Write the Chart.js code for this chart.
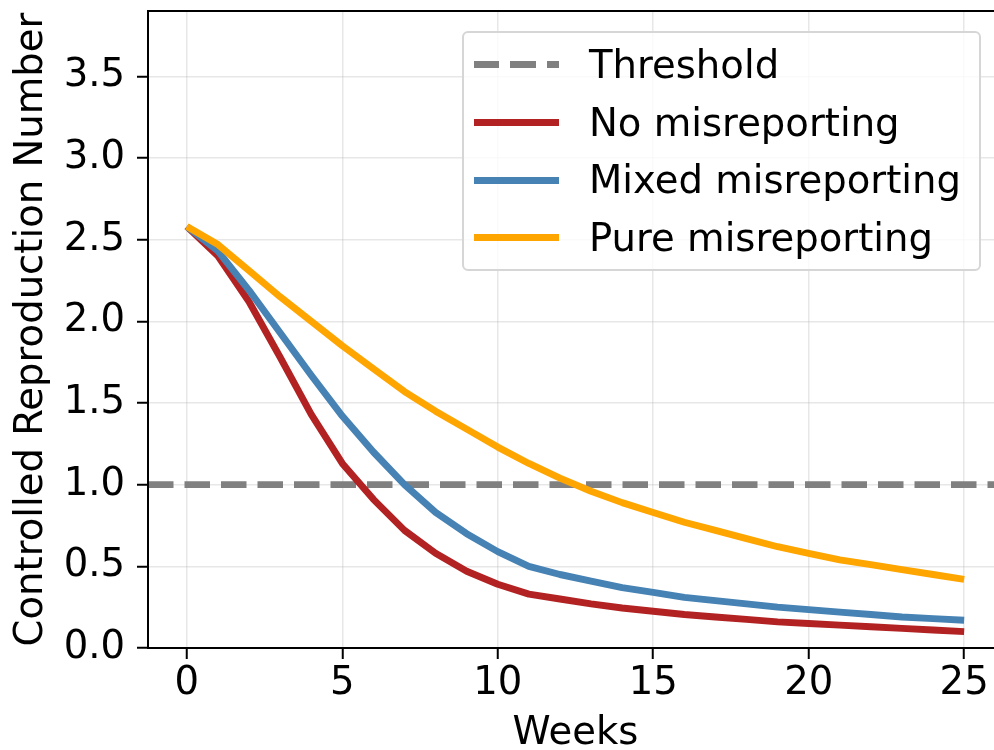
<!DOCTYPE html>
<html lang="en">
<head>
    <meta charset="UTF-8">
    <title>Controlled Reproduction Number</title>
    <script src="https://cdn.jsdelivr.net/npm/chart.js"></script>
    <style>
        html, body { margin: 0; padding: 0; background: #fff; overflow: hidden; }
        .wrap { position: relative; width: 994px; height: 750px; overflow: hidden; }
        #chart { position: absolute; left: 0; top: 0; }
        .legend {
            position: absolute; left: 462px; top: 31px; width: 519px; height: 240px;
            box-sizing: border-box; padding: 3px 0 0 0;
            background: rgba(255, 255, 255, 0.8);
            border: 2px solid #d6d6d6; border-radius: 6px;
            font-family: "DejaVu Sans", sans-serif; font-size: 38.6px; color: #000;
        }
        .legend-row { display: flex; align-items: center; height: 57.7px; line-height: 57.7px; white-space: nowrap; }
        .legend-line { width: 85px; margin-left: 10px; margin-right: 30px; flex: none; }
    </style>
</head>
<body>
    <div class="wrap">
        <canvas id="chart" width="1004" height="750"></canvas>
        <div class="legend" id="legend"></div>
    </div>

    <script>
        const weeks = [0, 1, 2, 3, 4, 5, 6, 7, 8, 9, 10, 11, 12, 13, 14, 15, 16, 17, 18, 19, 20, 21, 22, 23, 24, 25];
        const noMisreporting = [2.58, 2.40, 2.12, 1.78, 1.43, 1.13, 0.91, 0.72, 0.58, 0.47, 0.39, 0.33, 0.30, 0.27, 0.245, 0.225, 0.205, 0.19, 0.175, 0.16, 0.15, 0.14, 0.13, 0.12, 0.11, 0.10];
        const mixedMisreporting = [2.58, 2.43, 2.19, 1.93, 1.67, 1.42, 1.20, 1.00, 0.83, 0.70, 0.59, 0.50, 0.45, 0.41, 0.37, 0.34, 0.31, 0.29, 0.27, 0.25, 0.235, 0.22, 0.205, 0.19, 0.18, 0.17];
        const pureMisreporting = [2.58, 2.47, 2.31, 2.15, 2.00, 1.85, 1.71, 1.57, 1.45, 1.34, 1.23, 1.13, 1.04, 0.96, 0.89, 0.83, 0.77, 0.72, 0.67, 0.62, 0.58, 0.54, 0.51, 0.48, 0.45, 0.42];
        const threshold = 1.0;
        const xTicks = [0, 5, 10, 15, 20, 25];
        const yTicks = [0, 0.5, 1.0, 1.5, 2.0, 2.5, 3.0, 3.5];
        const xLimits = [-1.25, 26.25];
        const yLimits = [0, 3.9];

        const font = { family: 'DejaVu Sans', size: 38.6 };
        const gridColor = 'rgba(176, 176, 176, 0.3)';
        const lw = 6.9;

        const toPoints = (vals) => vals.map((v, i) => ({ x: weeks[i], y: v }));

        // matplotlib-style frame on all four sides
        const spines = {
            id: 'spines',
            afterDatasetsDraw(chart) {
                const { ctx, chartArea: a } = chart;
                ctx.save();
                ctx.strokeStyle = '#000';
                ctx.lineWidth = 2;
                ctx.strokeRect(a.left, a.top, a.right - a.left, a.bottom - a.top);
                ctx.restore();
            }
        };

        const datasets = [
            {
                label: 'Threshold',
                data: [{ x: xLimits[0], y: threshold }, { x: xLimits[1], y: threshold }],
                borderColor: '#808080', borderWidth: lw, borderDash: [25.5, 11],
                order: 4
            },
            { label: 'No misreporting', data: toPoints(noMisreporting), borderColor: '#b22222', borderWidth: lw, order: 3 },
            { label: 'Mixed misreporting', data: toPoints(mixedMisreporting), borderColor: '#4682b4', borderWidth: lw, order: 2 },
            { label: 'Pure misreporting', data: toPoints(pureMisreporting), borderColor: '#ffa500', borderWidth: lw, order: 1 }
        ];

        const noPad = (s) => { s.paddingTop = 0; s.paddingBottom = 0; s.paddingLeft = 0; s.paddingRight = 0; };

        const chart = new Chart(document.querySelector('#chart'), {
            type: 'line',
            data: { datasets: datasets },
            options: {
                responsive: false,
                animation: false,
                devicePixelRatio: 1,
                layout: { padding: { top: 11, right: 1, left: 0, bottom: 0 } },
                elements: {
                    point: { radius: 0 },
                    line: { tension: 0, fill: false, borderCapStyle: 'butt', borderJoinStyle: 'round' }
                },
                plugins: { legend: { display: false }, tooltip: { enabled: false } },
                scales: {
                    x: {
                        type: 'linear',
                        min: xLimits[0], max: xLimits[1],
                        afterBuildTicks: (s) => { s.ticks = xTicks.map(v => ({ value: v })); },
                        afterFit: (s) => { s.height = 102; noPad(s); },
                        ticks: { font: font, color: '#000', padding: 2, maxRotation: 0, callback: (v) => String(v) },
                        grid: { color: gridColor, lineWidth: 1.5, tickColor: '#000', tickWidth: 2, tickLength: 11 },
                        border: { display: false },
                        title: { display: true, text: 'Weeks', font: { family: 'DejaVu Sans', size: 38.6, lineHeight: 0.85 }, color: '#000', padding: { top: 0, bottom: 0 } }
                    },
                    y: {
                        min: yLimits[0], max: yLimits[1],
                        afterBuildTicks: (s) => { s.ticks = yTicks.map(v => ({ value: v })); },
                        afterFit: (s) => { s.width = 148; noPad(s); },
                        ticks: { font: font, color: '#000', padding: 12, callback: (v) => v.toFixed(1) },
                        grid: { color: gridColor, lineWidth: 1.5, tickColor: '#000', tickWidth: 2, tickLength: 11 },
                        border: { display: false },
                        title: { display: true, text: 'Controlled Reproduction Number', font: font, color: '#000', padding: { top: 9, bottom: 0 } }
                    }
                }
            },
            plugins: [spines]
        });

        // boxed legend in the upper right, built from the datasets
        const legend = document.getElementById('legend');
        chart.data.datasets.forEach((ds) => {
            const row = document.createElement('div');
            row.className = 'legend-row';
            const line = document.createElement('div');
            line.className = 'legend-line';
            line.style.height = ds.borderWidth + 'px';
            if (ds.borderDash) {
                const on = ds.borderDash[0], period = ds.borderDash[0] + ds.borderDash[1];
                line.style.background = 'repeating-linear-gradient(90deg, ' + ds.borderColor + ' 0 ' + on + 'px, transparent ' + on + 'px ' + period + 'px)';
            } else {
                line.style.background = ds.borderColor;
            }
            const text = document.createElement('span');
            text.textContent = ds.label;
            row.appendChild(line);
            row.appendChild(text);
            legend.appendChild(row);
        });
    </script>
</body>
</html>
